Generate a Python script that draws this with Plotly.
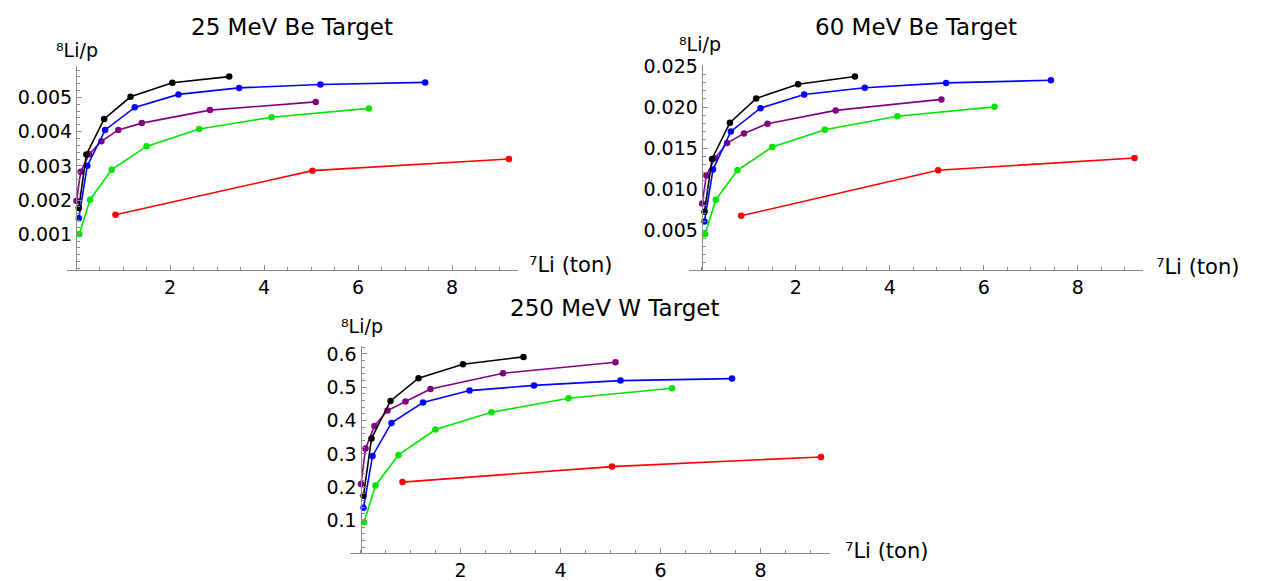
import plotly.graph_objects as go

W, H = 1263, 581

# ---- data (x = 7Li mass in tons, shared across panels) ----
x_black = [0.06, 0.22, 0.60, 1.16, 2.05, 3.26]
x_blue = [0.06, 0.24, 0.62, 1.25, 2.18, 3.47, 5.20, 7.43]
x_purple = [0.01, 0.10, 0.28, 0.54, 0.90, 1.40, 2.85, 5.10]
x_green = [0.07, 0.30, 0.76, 1.50, 2.62, 4.16, 6.23]
x_red = [0.84, 5.03, 9.21]

# 25 MeV Be target
be25_black = [0.00177, 0.00333, 0.00437, 0.00502, 0.00543, 0.00561]
be25_blue = [0.00147, 0.00300, 0.00405, 0.00471, 0.00509, 0.00528, 0.00538, 0.00544]
be25_purple = [0.00197, 0.00283, 0.00334, 0.00372, 0.00405, 0.00425, 0.00463, 0.00487]
be25_green = [0.00101, 0.00201, 0.00289, 0.00357, 0.00408, 0.00442, 0.00468]
be25_red = [0.00157, 0.00286, 0.00320]

# 60 MeV Be target
be60_black = [0.00725, 0.01369, 0.01811, 0.02107, 0.02280, 0.02375]
be60_blue = [0.00607, 0.01239, 0.01704, 0.01988, 0.02154, 0.02237, 0.02296, 0.02328]
be60_purple = [0.00825, 0.01168, 0.01376, 0.01562, 0.01680, 0.01799, 0.01961, 0.02095]
be60_green = [0.00450, 0.00872, 0.01231, 0.01515, 0.01724, 0.01890, 0.02004]
be60_red = [0.00675, 0.01231, 0.01381]

# 250 MeV W target
w250_black = [0.1747, 0.3465, 0.459, 0.527, 0.569, 0.591]
w250_blue = [0.1386, 0.294, 0.393, 0.454, 0.490, 0.5055, 0.520, 0.526]
w250_purple = [0.2097, 0.316, 0.384, 0.430, 0.457, 0.495, 0.542, 0.575]
w250_green = [0.0949, 0.2056, 0.297, 0.373, 0.425, 0.467, 0.497]
w250_red = [0.2155, 0.262, 0.291]

titles = ["25 MeV Be Target", "60 MeV Be Target", "250 MeV W Target"]
y_label = "\u2078Li/p"
x_label = "\u2077Li (ton)"
x_ticks = [2, 4, 6, 8]
y_ticks_1 = [0.001, 0.002, 0.003, 0.004, 0.005]
y_text_1 = ["0.001", "0.002", "0.003", "0.004", "0.005"]
y_ticks_2 = [0.005, 0.010, 0.015, 0.020, 0.025]
y_text_2 = ["0.005", "0.010", "0.015", "0.020", "0.025"]
y_ticks_3 = [0.1, 0.2, 0.3, 0.4, 0.5, 0.6]
y_text_3 = ["0.1", "0.2", "0.3", "0.4", "0.5", "0.6"]

colors = {"black": "#000000", "blue": "#0000ff", "purple": "#800080",
          "green": "#00e600", "red": "#ff0000"}

xs = {"red": x_red, "green": x_green, "purple": x_purple, "blue": x_blue, "black": x_black}
panels = [
    {"red": be25_red, "green": be25_green, "purple": be25_purple, "blue": be25_blue, "black": be25_black},
    {"red": be60_red, "green": be60_green, "purple": be60_purple, "blue": be60_blue, "black": be60_black},
    {"red": w250_red, "green": w250_green, "purple": w250_purple, "blue": w250_blue, "black": w250_black},
]

def px(v):
    return v / W

def py(v):
    return 1 - v / H

fig = go.Figure()
for i, pdata in enumerate(panels):
    suffix = "" if i == 0 else str(i + 1)
    for name in ["red", "green", "purple", "blue", "black"]:
        fig.add_trace(go.Scatter(
            x=xs[name], y=pdata[name], mode="lines+markers",
            line=dict(color=colors[name], width=1.6),
            marker=dict(color=colors[name], size=6.5),
            xaxis="x" + suffix, yaxis="y" + suffix, showlegend=False,
            hoverinfo="skip"))

FONT = "DejaVu Sans"
axis_col = "#8a8a8a"

# panel geometry (pixels)
geo = [
    dict(xl=67, xr=518, x0=76, sx=47, yb=267, yt=57, yr=[-0.00005, 0.00591],
         yt_vals=y_ticks_1, yt_text=y_text_1, ymin=0.0002),
    dict(xl=689, xr=1143, x0=701.7, sx=47, yb=267, yt=56, yr=[0.00012, 0.0251],
         yt_vals=y_ticks_2, yt_text=y_text_2, ymin=0.001),
    dict(xl=350, xr=830, x0=360.5, sx=50, yb=558.3, yt=345, yr=[0.003, 0.624],
         yt_vals=y_ticks_3, yt_text=y_text_3, ymin=0.02),
]

layout = dict(width=W, height=H, margin=dict(l=0, r=0, t=0, b=0),
              paper_bgcolor="white", plot_bgcolor="white",
              font=dict(family=FONT, color="black", size=19), hovermode=False)

for i, g in enumerate(geo):
    s = "" if i == 0 else str(i + 1)
    xr = [(g["xl"] - g["x0"]) / g["sx"], (g["xr"] - g["x0"]) / g["sx"]]
    layout["xaxis" + s] = dict(
        domain=[px(g["xl"]), px(g["xr"])], range=xr, anchor="y" + s,
        showgrid=False, zeroline=False, showline=True, linecolor=axis_col, linewidth=1,
        tickmode="array", tickvals=x_ticks, ticktext=[str(t) for t in x_ticks],
        ticks="inside", ticklen=5, tickcolor=axis_col,
        minor=dict(tickmode="linear", tick0=0, dtick=0.5, ticks="inside", ticklen=3, tickcolor=axis_col),
        tickfont=dict(family=FONT, size=19, color="black"))
    layout["yaxis" + s] = dict(
        domain=[py(g["yb"]), py(g["yt"])], range=g["yr"], anchor="free",
        position=px(g["x0"]),
        showgrid=False, zeroline=False, showline=True, linecolor=axis_col, linewidth=1,
        tickmode="array", tickvals=g["yt_vals"], ticktext=g["yt_text"],
        ticks="inside", ticklen=5, tickcolor=axis_col,
        minor=dict(tickmode="linear", tick0=0, dtick=g["ymin"], ticks="inside", ticklen=3, tickcolor=axis_col),
        tickfont=dict(family=FONT, size=19, color="black"))

ann = []
title_pos = [(292, 16), (916, 16), (614, 306)]
for t, (cx, cy) in zip(titles, title_pos):
    ann.append(dict(text=t, x=px(cx), y=py(cy), xref="paper", yref="paper",
                    xanchor="center", yanchor="middle", showarrow=False, borderpad=0,
                    font=dict(family=FONT, size=23, color="black")))
ylab_pos = [(77, 40), (700, 34), (362, 325)]
for cx, cy in ylab_pos:
    ann.append(dict(text=y_label, x=px(cx), y=py(cy), xref="paper", yref="paper",
                    xanchor="center", yanchor="middle", showarrow=False, borderpad=0,
                    font=dict(family=FONT, size=19, color="black")))
xlab_pos = [(528, 262), (1155, 264), (844, 556)]
for cx, cy in xlab_pos:
    ann.append(dict(text=x_label, x=px(cx), y=py(cy), xref="paper", yref="paper",
                    xanchor="left", yanchor="middle", showarrow=False, borderpad=0,
                    font=dict(family=FONT, size=21, color="black")))
layout["annotations"] = ann

fig.update_layout(**layout)
fig.write_html("out.html")
